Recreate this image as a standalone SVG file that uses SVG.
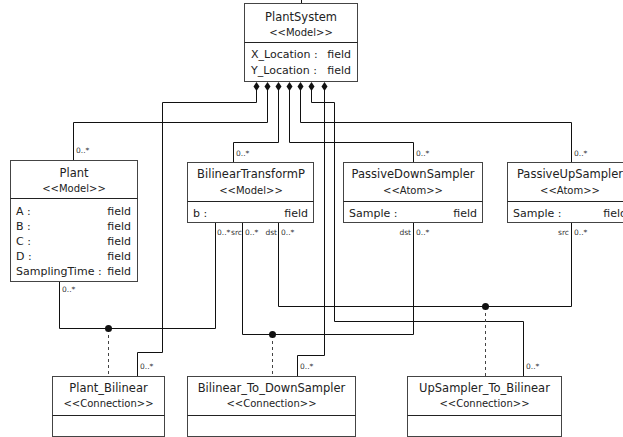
<svg xmlns="http://www.w3.org/2000/svg" width="623" height="437" viewBox="0 0 623 437">
<style>
.box{fill:#fff;stroke:#444;stroke-width:1}
.div{stroke:#222;stroke-width:1}
.t{font-family:"DejaVu Sans",Verdana,sans-serif;font-size:11.5px;fill:#222;text-anchor:middle}
.s{font-family:"DejaVu Sans",Verdana,sans-serif;font-size:10px;fill:#222;text-anchor:middle}
.f{font-family:"DejaVu Sans",Verdana,sans-serif;font-size:11px;fill:#222}
.r{text-anchor:end}
.l{font-family:"DejaVu Sans",Verdana,sans-serif;font-size:7.5px;fill:#333}
.c{fill:none;stroke:#111;stroke-width:1}
.d{fill:none;stroke:#444;stroke-width:1;stroke-dasharray:3,3}
.dm{fill:#111}
</style>
<g id="connectors">
<path class="c" d="M301.5 0V4"/>
<path class="c" d="M256.5 86V102.5H162.5V352.5H137.5V377"/>
<path class="c" d="M267.5 86V122.5H73.5V161"/>
<path class="c" d="M278.5 86V142.5H233.5V163"/>
<path class="c" d="M289.5 86V142.5H413.5V163"/>
<path class="c" d="M300.5 86V122.5H571.5V163"/>
<path class="c" d="M311.5 86V102.5H334.5V321.5H523.5V377"/>
<path class="c" d="M324.5 86V355.5H297.5V377"/>
<path class="c" d="M59.5 282V328.5H215.5V223"/>
<path class="c" d="M242.5 223V334.5H413.5V223"/>
<path class="c" d="M278.5 223V306.5H571.5V223"/>
<path class="d" d="M108.5 329V377"/>
<path class="d" d="M272.5 335V377"/>
<path class="d" d="M485.5 307V377"/>
<g class="dm">
<path d="M256.5 82L259.5 86.5L256.5 91L253.5 86.5Z"/>
<path d="M267.5 82L270.5 86.5L267.5 91L264.5 86.5Z"/>
<path d="M278.5 82L281.5 86.5L278.5 91L275.5 86.5Z"/>
<path d="M289.5 82L292.5 86.5L289.5 91L286.5 86.5Z"/>
<path d="M300.5 82L303.5 86.5L300.5 91L297.5 86.5Z"/>
<path d="M311.5 82L314.5 86.5L311.5 91L308.5 86.5Z"/>
<path d="M324.5 82L327.5 86.5L324.5 91L321.5 86.5Z"/>
<circle cx="108.5" cy="328.5" r="3.5"/>
<circle cx="272.5" cy="334.5" r="3.5"/>
<circle cx="485.5" cy="306.5" r="3.5"/>
</g>
<text class="l" x="76" y="153">0..*</text>
<text class="l" x="236" y="156">0..*</text>
<text class="l" x="416" y="156">0..*</text>
<text class="l" x="574" y="156">0..*</text>
<text class="l" x="62" y="292">0..*</text>
<text class="l" x="217" y="235">0..*</text>
<text class="l r" x="242" y="235">src</text>
<text class="l" x="245" y="235">0..*</text>
<text class="l r" x="277" y="235">dst</text>
<text class="l" x="281" y="235">0..*</text>
<text class="l r" x="411" y="235">dst</text>
<text class="l" x="416" y="235">0..*</text>
<text class="l r" x="569" y="235">src</text>
<text class="l" x="574" y="235">0..*</text>
<text class="l" x="140" y="369">0..*</text>
<text class="l" x="300" y="369">0..*</text>
<text class="l" x="526" y="369">0..*</text>
</g>
<g id="PlantSystem">
<rect class="box" x="244.5" y="3.5" width="113" height="78"/>
<line class="div" x1="244.5" y1="42.5" x2="357.5" y2="42.5"/>
<text class="t" x="301" y="21">PlantSystem</text>
<text class="s" x="301" y="35.5">&lt;&lt;Model&gt;&gt;</text>
<text class="f" x="251" y="58">X_Location :</text>
<text class="f r" x="351" y="58">field</text>
<text class="f" x="251" y="74">Y_Location :</text>
<text class="f r" x="351" y="74">field</text>
</g>
<g id="Plant">
<rect class="box" x="10.5" y="160.5" width="127" height="121"/>
<line class="div" x1="10.5" y1="198.5" x2="137.5" y2="198.5"/>
<text class="t" x="74" y="177">Plant</text>
<text class="s" x="74" y="191.5">&lt;&lt;Model&gt;&gt;</text>
<text class="f" x="16" y="215">A :</text>
<text class="f r" x="131" y="215">field</text>
<text class="f" x="16" y="230">B :</text>
<text class="f r" x="131" y="230">field</text>
<text class="f" x="16" y="245">C :</text>
<text class="f r" x="131" y="245">field</text>
<text class="f" x="16" y="260">D :</text>
<text class="f r" x="131" y="260">field</text>
<text class="f" x="16" y="275">SamplingTime :</text>
<text class="f r" x="131" y="275">field</text>
</g>
<g id="BilinearTransformP">
<rect class="box" x="187.5" y="162.5" width="126" height="60"/>
<line class="div" x1="187.5" y1="201.5" x2="313.5" y2="201.5"/>
<text class="t" x="251" y="178">BilinearTransformP</text>
<text class="s" x="251" y="194">&lt;&lt;Model&gt;&gt;</text>
<text class="f" x="193" y="217">b :</text>
<text class="f r" x="308" y="217">field</text>
</g>
<g id="PassiveDownSampler">
<rect class="box" x="343.5" y="162.5" width="139" height="60"/>
<line class="div" x1="343.5" y1="201.5" x2="482.5" y2="201.5"/>
<text class="t" x="413" y="178">PassiveDownSampler</text>
<text class="s" x="413" y="194">&lt;&lt;Atom&gt;&gt;</text>
<text class="f" x="349" y="217">Sample :</text>
<text class="f r" x="477" y="217">field</text>
</g>
<g id="PassiveUpSampler">
<rect class="box" x="507.5" y="162.5" width="125" height="60"/>
<line class="div" x1="507.5" y1="201.5" x2="632.5" y2="201.5"/>
<text class="t" x="570" y="178">PassiveUpSampler</text>
<text class="s" x="570" y="194">&lt;&lt;Atom&gt;&gt;</text>
<text class="f" x="513" y="217">Sample :</text>
<text class="f r" x="627" y="217">field</text>
</g>
<g id="Plant_Bilinear">
<rect class="box" x="52.5" y="376.5" width="112" height="60"/>
<line class="div" x1="52.5" y1="415.5" x2="164.5" y2="415.5"/>
<text class="t" x="108.5" y="392">Plant_Bilinear</text>
<text class="s" x="108.5" y="407">&lt;&lt;Connection&gt;&gt;</text>
</g>
<g id="Bilinear_To_DownSampler">
<rect class="box" x="187.5" y="376.5" width="168" height="60"/>
<line class="div" x1="187.5" y1="415.5" x2="355.5" y2="415.5"/>
<text class="t" x="271.5" y="392">Bilinear_To_DownSampler</text>
<text class="s" x="271.5" y="407">&lt;&lt;Connection&gt;&gt;</text>
</g>
<g id="UpSampler_To_Bilinear">
<rect class="box" x="407.5" y="376.5" width="154" height="60"/>
<line class="div" x1="407.5" y1="415.5" x2="561.5" y2="415.5"/>
<text class="t" x="484.5" y="392">UpSampler_To_Bilinear</text>
<text class="s" x="484.5" y="407">&lt;&lt;Connection&gt;&gt;</text>
</g>
</svg>
